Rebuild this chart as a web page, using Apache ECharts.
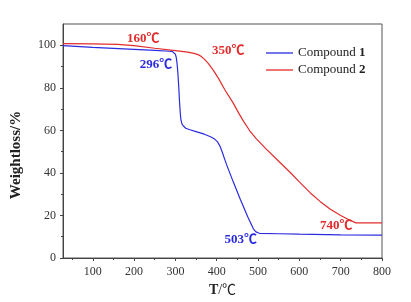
<!DOCTYPE html>
<html>
<head>
<meta charset="utf-8">
<script src="https://cdn.jsdelivr.net/npm/echarts@6/dist/echarts.min.js"></script>
<style>
  html, body { margin: 0; padding: 0; background: #fff; }
  #chart { width: 411px; height: 302px; }
</style>
</head>
<body>
<div id="chart"></div>
<script>
// compound 1 (blue)
var temp1 = [28, 100, 200, 250, 285, 293, 297, 300, 302, 304, 306, 308, 310, 311.5, 313, 315, 317, 320, 325, 335, 350, 370, 385, 395, 402, 408, 414, 420, 425, 440, 457, 475, 489, 495, 499, 503, 550, 600, 700, 800];
var weight1 = [99.8, 99.0, 98.1, 97.6, 97.2, 97.0, 96.6, 95.8, 94.3, 91.5, 87, 81, 73.5, 69, 65.5, 63.6, 62.6, 61.8, 61.0, 60.3, 59.4, 58.2, 57.0, 55.9, 54.6, 52.5, 49.5, 46, 43.3, 35.8, 27.6, 19.4, 13.6, 12.3, 11.8, 11.6, 11.4, 11.2, 10.9, 10.8];
// compound 2 (red)
var temp2 = [28, 100, 160, 200, 250, 300, 330, 345, 355, 362, 370, 380, 392, 405, 420, 440, 455, 465, 480, 495, 510, 520, 550, 578, 600, 626, 650, 675, 700, 720, 737, 800];
var weight2 = [100.8, 100.7, 100.4, 99.8, 98.6, 97.5, 96.8, 96.2, 95.6, 94.8, 93.5, 91.4, 88.2, 84.2, 79, 72.8, 67.5, 64.2, 59.8, 56.2, 53.2, 51.2, 45.5, 40.2, 35.8, 30.7, 26.6, 22.9, 20.0, 18.0, 16.5, 16.5];

var xMajor = [100, 200, 300, 400, 500, 600, 700, 800];
var xMinor = [50, 150, 250, 350, 450, 550, 650, 750];
var yMajor = [0, 20, 40, 60, 80, 100];
var yMinor = [10, 30, 50, 70, 90];

// annotation texts and where they sit (data coords)
var notes1 = ['296℃', '503℃'];
var notesAt1 = [[253, 91.1], [458, 8.6]];
var notes2 = ['160℃', '350℃', '740℃'];
var notesAt2 = [[222, 103.3], [428, 97.7], [689, 15]];

var serif = '"Liberation Serif", "Times New Roman", "Noto Sans CJK SC", serif';
var blue = '#2b2be0';
var red = '#e42b2b';

function zip(a, b) {
    return a.map(function (v, i) { return [v, b[i]]; });
}
function marks(texts, at) {
    return texts.map(function (t, i) { return { name: t, coord: at[i] }; });
}

var chart = echarts.init(document.getElementById('chart'));

var option = {
    animation: false,
    grid: {
        left: 63, top: 24, right: 29, bottom: 43,
        show: true, borderColor: '#555', borderWidth: 1
    },
    legend: {
        left: 266, top: 46, padding: 0,
        orient: 'vertical',
        icon: 'rect',
        itemWidth: 27, itemHeight: 1.3, itemGap: 3,
        formatter: function (name) {
            return name.replace(/(\d)$/, '{b|$1}');
        },
        textStyle: {
            fontFamily: serif, fontSize: 13, color: '#222', lineHeight: 14,
            rich: { b: { fontFamily: serif, fontSize: 13, fontWeight: 'bold', color: '#222' } }
        },
        data: ['Compound 1', 'Compound 2']
    },
    xAxis: [{
        type: 'value', min: 28, max: 800,
        name: '{b|T}/℃', nameLocation: 'middle', nameGap: 25,
        nameTextStyle: {
            fontFamily: serif, fontSize: 14, color: '#222',
            rich: { b: { fontFamily: serif, fontSize: 14, fontWeight: 'bold', color: '#222' } }
        },
        splitLine: { show: false },
        axisLine: { lineStyle: { color: '#444' } },
        axisTick: { length: 3, customValues: xMajor, lineStyle: { color: '#444' } },
        axisLabel: { customValues: xMajor, margin: 8, fontFamily: serif, fontSize: 12, color: '#333' }
    }, {
        type: 'value', min: 28, max: 800, position: 'bottom',
        splitLine: { show: false },
        axisLine: { show: false },
        axisTick: { length: 2, customValues: xMinor, lineStyle: { color: '#444' } },
        axisLabel: { show: false }
    }],
    yAxis: [{
        type: 'value', min: 0, max: 110,
        name: 'Weightloss/%', nameLocation: 'middle', nameGap: 39,
        nameTextStyle: {
            fontFamily: serif, fontSize: 15, fontWeight: 'bold', color: '#222',
            padding: [0, 28, 0, 0]
        },
        splitLine: { show: false },
        axisLine: { show: true, lineStyle: { color: '#444' } },
        axisTick: { show: true, length: 3, customValues: yMajor, lineStyle: { color: '#444' } },
        axisLabel: { customValues: yMajor, margin: 7, fontFamily: serif, fontSize: 12, color: '#333' }
    }, {
        type: 'value', min: 0, max: 110, position: 'left',
        splitLine: { show: false },
        axisLine: { show: false },
        axisTick: { show: true, length: 2, customValues: yMinor, lineStyle: { color: '#444' } },
        axisLabel: { show: false }
    }],
    series: [{
        name: 'Compound 1',
        type: 'line',
        symbol: 'none',
        color: blue,
        lineStyle: { width: 1.2, color: blue },
        data: zip(temp1, weight1),
        markPoint: {
            symbol: 'circle', symbolSize: 1,
            itemStyle: { color: 'rgba(0,0,0,0)' },
            label: {
                position: 'inside', formatter: '{b}',
                fontFamily: serif, fontSize: 13, fontWeight: 'bold', color: blue
            },
            data: marks(notes1, notesAt1)
        }
    }, {
        name: 'Compound 2',
        type: 'line',
        symbol: 'none',
        color: red,
        lineStyle: { width: 1.2, color: red },
        data: zip(temp2, weight2),
        markPoint: {
            symbol: 'circle', symbolSize: 1,
            itemStyle: { color: 'rgba(0,0,0,0)' },
            label: {
                position: 'inside', formatter: '{b}',
                fontFamily: serif, fontSize: 13, fontWeight: 'bold', color: red
            },
            data: marks(notes2, notesAt2)
        }
    }]
};
chart.setOption(option);
</script>
</body>
</html>
